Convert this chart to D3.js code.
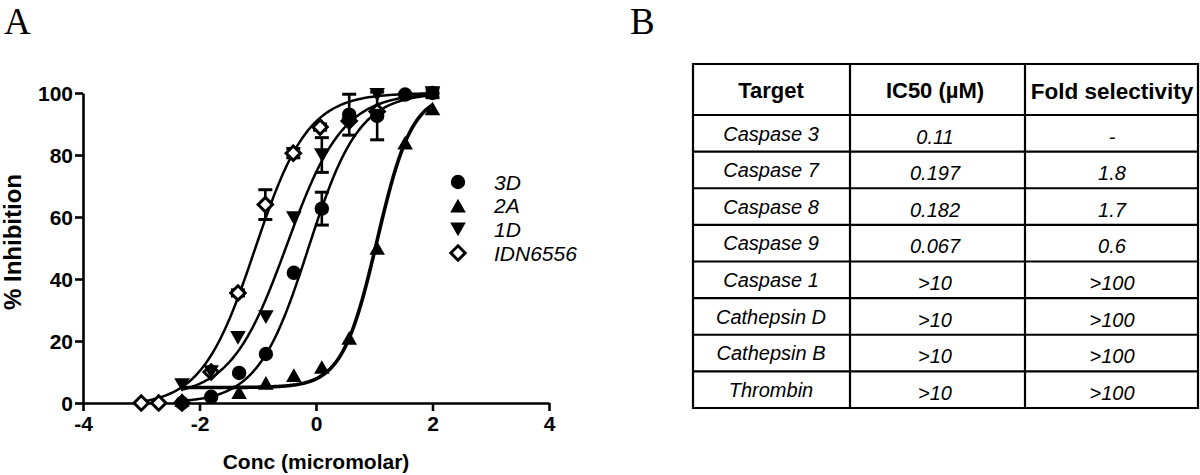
<!DOCTYPE html>
<html><head><meta charset="utf-8">
<script src="https://cdn.jsdelivr.net/npm/d3@7"></script>
<style>body{margin:0;background:#fff;} svg{display:block;}</style>
</head><body>
<script>
// ---------- data ----------
const xTicks = [-4, -2, 0, 2, 4];
const yTicks = [0, 20, 40, 60, 80, 100];

const s3D_x   = [-2.3, -1.8, -1.32, -0.86, -0.38, 0.1, 0.57, 1.05, 1.53, 2.0];
const s3D_y   = [0, 2, 9.7, 15.8, 42, 62.7, 93, 92.6, 99.5, 100];
const s3D_err = [0, 0, 0, 0, 0, 5.3, 6.6, 7.7, 0, 1.5];

const s2A_x   = [-2.3, -1.32, -0.86, -0.38, 0.1, 0.57, 1.05, 1.53, 2.0];
const s2A_y   = [1, 3.5, 6.5, 9, 11.6, 21, 50, 84, 95];
const s2A_err = [0, 0, 0, 0, 0, 0, 0, 0, 0];

const s1D_x   = [-2.3, -1.8, -1.34, -0.86, -0.38, 0.1, 0.57, 1.05, 2.0];
const s1D_y   = [5.8, 10, 21, 27.7, 59.7, 80, 90, 99.4, 100];
const s1D_err = [0, 0, 0, 0, 0, 5.6, 0, 0, 0];

const sIDN_x   = [-3.0, -2.7, -2.3, -1.8, -1.34, -0.87, -0.39, 0.07, 0.57, 1.05];
const sIDN_y   = [0, 0, 0, 10, 35.5, 64, 80.6, 89, 91, 94];
const sIDN_err = [0, 0, 0, 0, 1, 4.8, 1.5, 1, 0, 0];

// fitted curve parameters: [bottom, top, logEC50, hill]
const fit3D  = [0, 100, -0.13, 1.0];
const fit2A  = [5, 100, 1.05, 1.45];
const fit1D  = [2, 100, -0.5, 0.9];
const fitIDN = [-1, 100, -1.05, 0.95];

const legendLabels = ["3D", "2A", "1D", "IDN6556"];

const tableHeaders = ["Target", "IC50 (µM)", "Fold selectivity"];
const targets = ["Caspase 3", "Caspase 7", "Caspase 8", "Caspase 9", "Caspase 1", "Cathepsin D", "Cathepsin B", "Thrombin"];
const ic50 = ["0.11", "0.197", "0.182", "0.067", ">10", ">10", ">10", ">10"];
const fold = ["-", "1.8", "1.7", "0.6", ">100", ">100", ">100", ">100"];

// ---------- drawing ----------
const W = 1200, H = 475;
const svg = d3.select("body").append("svg").attr("width", W).attr("height", H);
const FONT = "Liberation Sans, Arial, Helvetica, sans-serif";

const x = d3.scaleLinear().domain([-4, 4]).range([83, 549]);
const y = d3.scaleLinear().domain([0, 100]).range([403, 93]);

// axes
const gx = svg.append("g").attr("transform", "translate(0,403)")
  .call(d3.axisBottom(x).tickValues(xTicks).tickSize(8).tickPadding(5).tickSizeOuter(0)
    .tickFormat(d => d < 0 ? "-" + Math.abs(d) : d));
const gy = svg.append("g").attr("transform", "translate(83,0)")
  .call(d3.axisLeft(y).tickValues(yTicks).tickSize(8).tickPadding(2).tickSizeOuter(0));
[gx, gy].forEach(g => {
  g.select(".domain").attr("stroke", "#000").attr("stroke-width", 2.6);
  g.selectAll(".tick line").attr("stroke", "#000").attr("stroke-width", 2.6);
  g.selectAll(".tick text").attr("fill", "#000").style("font-family", FONT)
    .style("font-weight", "bold").style("font-size", "21px");
});
gy.selectAll(".tick text").attr("dy", "0.36em");

svg.append("text").attr("x", 316).attr("y", 469).attr("text-anchor", "middle")
  .style("font-family", FONT).style("font-weight", "bold").style("font-size", "21px")
  .text("Conc (micromolar)");
svg.append("text").attr("transform", "translate(21,242) rotate(-90)").attr("text-anchor", "middle")
  .style("font-family", FONT).style("font-weight", "bold").style("font-size", "24px")
  .text("% Inhibition");

// panel letters
svg.append("text").attr("x", 4).attr("y", 34).style("font-family", "Liberation Serif, Times New Roman, serif")
  .style("font-size", "37px").text("A");
svg.append("text").attr("x", 630).attr("y", 34).style("font-family", "Liberation Serif, Times New Roman, serif")
  .style("font-size", "37px").text("B");

// curves
function logistic(p, v) { return p[0] + (p[1] - p[0]) / (1 + Math.pow(10, (p[2] - v) * p[3])); }
const line = d3.line().x(d => x(d[0])).y(d => y(d[1])).curve(d3.curveLinear);
function drawCurve(p, x0, x1, sw) {
  const pts = d3.range(0, 201).map(i => { const v = x0 + (x1 - x0) * i / 200; return [v, logistic(p, v)]; });
  svg.append("path").datum(pts).attr("d", line).attr("fill", "none").attr("stroke", "#000")
    .attr("stroke-width", sw).attr("stroke-linejoin", "round");
}
drawCurve(fitIDN, -3.0, 2.0, 2.5);
drawCurve(fit1D, -2.3, 2.0, 2.5);
drawCurve(fit3D, -2.3, 2.0, 2.5);
drawCurve(fit2A, -2.3, 2.0, 3.6);

// error bars
function drawErr(xs, ys, es) {
  xs.forEach((v, i) => {
    if (!es[i]) return;
    const cx = x(v), y0 = y(ys[i] - es[i]), y1 = y(ys[i] + es[i]);
    const g = svg.append("g").attr("stroke", "#000");
    g.append("line").attr("x1", cx).attr("x2", cx).attr("y1", y0).attr("y2", y1).attr("stroke-width", 2.6);
    [y0, y1].forEach(yy => g.append("line").attr("x1", cx - 7).attr("x2", cx + 7).attr("y1", yy).attr("y2", yy).attr("stroke-width", 3));
  });
}
drawErr(sIDN_x, sIDN_y, sIDN_err);
drawErr(s1D_x, s1D_y, s1D_err);
drawErr(s3D_x, s3D_y, s3D_err);
drawErr(s2A_x, s2A_y, s2A_err);

// marker shapes
const shapes = {
  circle: (g, cx, cy) => g.append("circle").attr("cx", cx).attr("cy", cy).attr("r", 7.2).attr("fill", "#000"),
  up: (g, cx, cy) => g.append("path").attr("d", `M${cx},${cy - 6.8}L${cx + 7.8},${cy + 6.8}L${cx - 7.8},${cy + 6.8}Z`).attr("fill", "#000"),
  down: (g, cx, cy) => g.append("path").attr("d", `M${cx},${cy + 6.8}L${cx + 7.8},${cy - 6.8}L${cx - 7.8},${cy - 6.8}Z`).attr("fill", "#000"),
  diamond: (g, cx, cy) => g.append("path").attr("d", `M${cx},${cy - 7.2}L${cx + 7.2},${cy}L${cx},${cy + 7.2}L${cx - 7.2},${cy}Z`)
    .attr("fill", "#fff").attr("stroke", "#000").attr("stroke-width", 3)
};
function drawPts(xs, ys, shape) {
  const g = svg.append("g");
  xs.forEach((v, i) => shapes[shape](g, x(v), y(ys[i])));
}
drawPts(sIDN_x, sIDN_y, "diamond");
drawPts(s2A_x, s2A_y, "up");
drawPts(s3D_x, s3D_y, "circle");
drawPts(s1D_x, s1D_y, "down");

// legend
const legShapes = ["circle", "up", "down", "diamond"];
const legY = d3.scaleLinear().domain([0, 3]).range([182, 253]);
legendLabels.forEach((lab, i) => {
  const g = svg.append("g");
  shapes[legShapes[i]](g, 458, legY(i));
  g.append("text").attr("x", 494).attr("y", legY(i)).attr("dy", "0.36em")
    .style("font-family", FONT).style("font-style", "italic").style("font-size", "21px").text(lab);
});

// ---------- table ----------
const colX = [693, 850, 1025, 1198];
const headerTop = 64, headerBot = 115;
const rowY = d3.scaleLinear().domain([0, targets.length]).range([headerBot, 408]);
const tg = svg.append("g");
[headerTop].concat(d3.range(0, targets.length + 1).map(i => rowY(i))).forEach(yy => {
  tg.append("line").attr("x1", colX[0] - 1).attr("x2", colX[3] + 1).attr("y1", yy).attr("y2", yy)
    .attr("stroke", "#000").attr("stroke-width", 2.2);
});
colX.forEach(xx => {
  tg.append("line").attr("x1", xx).attr("x2", xx).attr("y1", headerTop - 1).attr("y2", 409)
    .attr("stroke", "#000").attr("stroke-width", 2.2);
});
const colCenter = [771, 935, 1112];
tableHeaders.forEach((h, j) => {
  tg.append("text").attr("x", colCenter[j]).attr("y", (headerTop + headerBot) / 2 + 1).attr("dy", "0.36em")
    .attr("text-anchor", "middle").style("font-family", FONT).style("font-weight", "bold")
    .style("font-size", j === 2 ? "22.5px" : "22px").text(h);
});
[targets, ic50, fold].forEach((col, j) => {
  col.forEach((t, i) => {
    const cy = (rowY(i) + rowY(i + 1)) / 2 + (j === 0 ? 0 : 3);
    tg.append("text").attr("x", colCenter[j]).attr("y", cy).attr("dy", "0.36em")
      .attr("text-anchor", "middle").style("font-family", FONT).style("font-style", "italic")
      .style("font-size", "20px").text(t);
  });
});
</script>
</body></html>
